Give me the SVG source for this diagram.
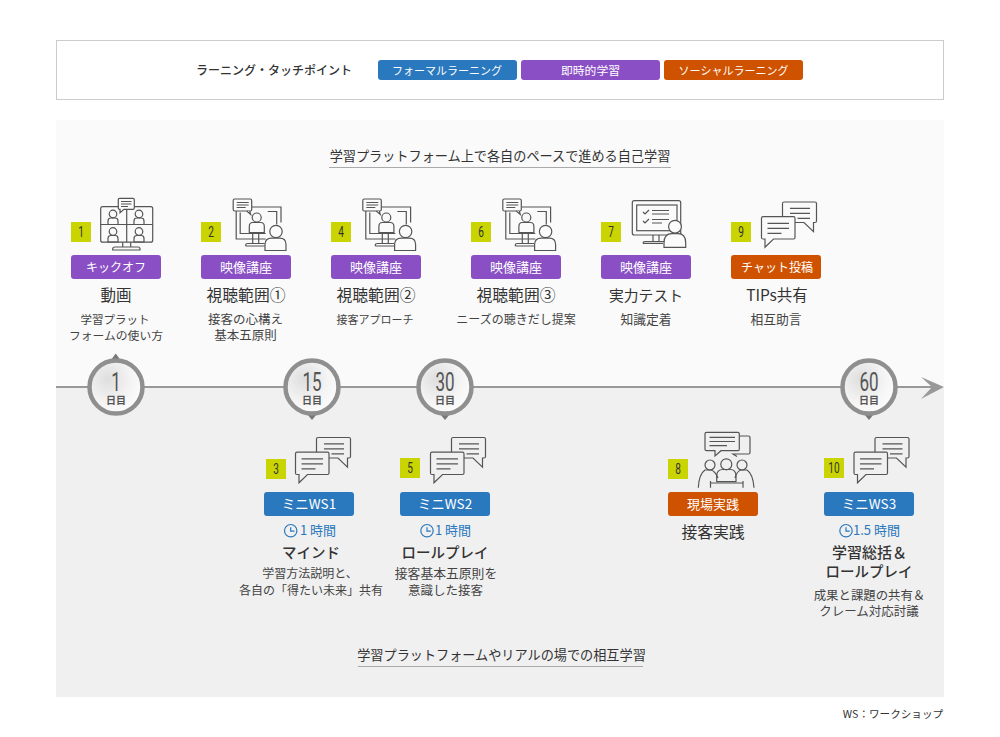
<svg xmlns="http://www.w3.org/2000/svg" width="1000" height="737" viewBox="0 0 1000 737">
<style>
text{font-family:"Noto Sans CJK JP","Noto Sans",sans-serif;text-anchor:middle;fill:#333}
.b{fill:#fff;font-size:13px}
.k{fill:#fff;font-size:12px}
.l{fill:#fff;font-size:11px}
.t{font-size:15.800px}
.u{font-size:14.500px;font-weight:500}
.d{font-size:12.500px;fill:#444}
.n{font-size:14px;font-family:Roboto,sans-serif;fill:#333}
.h{font-size:13.150px;fill:#333}
.tm{font-size:13px;fill:#2a78be}
.p{fill:#8a4fc4}.w{fill:#2a78be}.o{fill:#cf5200}
.sq{fill:#c9d400}
.i{fill:none;stroke:#555;stroke-width:1.2}
.if{fill:#fbfbfb;stroke:#555;stroke-width:1.2}
.c{fill:none;stroke:#2a78be;stroke-width:1.2}
.dn{font-size:25px;fill:#555;font-family:Roboto,sans-serif;font-weight:400}
.dy{font-size:10px;fill:#555;font-weight:700}
</style>
<defs>
<radialGradient id="g" cx="0.35" cy="0.35" r="0.8"><stop offset="0" stop-color="#dedede"/><stop offset="0.55" stop-color="#f4f4f4"/><stop offset="1" stop-color="#fff"/></radialGradient>
<g id="sp"><circle cx="0" cy="-10.500" r="3.800" class="i"/><path d="M-5 0V-3.500Q-5-6.500 -2-6.500H2Q5-6.500 5-3.500V0Z" class="i"/></g>
<g id="video">
<path d="M3.500 12.500V40.500H33M7.500 14V35H33M19 8.500H48.300V24M35 13H44V26M20 35V45M26 35V45M13 47.500V46.500Q13 45 15 45H32M13 47.500H32" class="i"/>
<rect x="0.500" y="0.500" width="18.500" height="12" rx="1.500" class="if"/>
<path d="M14 12.500L18 16L17 12.500" class="if"/>
<path d="M4 4H16M4 6.500H16M4 9H13" class="i" stroke-width="1"/>
<circle cx="24" cy="19" r="4.500" class="i"/>
<path d="M16.600 34V28Q16.600 24 20 24H28Q31.600 24 31.600 28V34Z" class="if"/>
<circle cx="43.300" cy="33" r="6.200" class="if"/>
<path d="M32.300 52V46Q32.300 39.600 39 39.600H47Q53.300 39.600 53.300 46V52Z" class="if"/>
</g>
<g id="chat">
<path d="M21 14.700V1.500Q21 0 22.500 0H53.500Q55 0 55 1.500V19Q55 20.500 53.500 20.500H52V29.700L42.500 20.500H33.500" class="i"/>
<path d="M28.500 6.300H48.500M28.500 11.300H48.500M36 16.300H48.500" class="i"/>
<path d="M1.500 14.700H32Q33.500 14.700 33.500 16.200V35.500Q33.500 37 32 37H12L3.500 45.300V37H1.500Q0 37 0 35.500V16.200Q0 14.700 1.500 14.700Z" class="i"/>
<path d="M6 21.300H27.500M6 26.300H27.500M6 31.300H20" class="i"/>
</g>
<g id="clock"><circle cx="0" cy="0" r="6.200" class="c"/><path d="M0-3.500V0.500H3.800" class="c"/></g>
<g id="day"><circle r="26.500" fill="url(#g)" stroke="#8f8f8f" stroke-width="4.500"/></g>
</defs>

<rect x="56.500" y="40.500" width="887" height="59" fill="#fff" stroke="#ccc"/>
<rect x="56" y="120" width="888" height="268" fill="#fafafa"/>
<rect x="56" y="388" width="888" height="309" fill="#f0f0f0"/>

<g id="legend">
<text x="274" y="74.500" style="font-size:12px;font-weight:500">ラーニング・タッチポイント</text>
<rect x="378" y="60" width="139" height="20" rx="3" class="w"/><text x="447" y="74.500" class="l">フォーマルラーニング</text>
<rect x="521" y="60" width="139" height="20" rx="3" class="p"/><text x="590.500" y="74.500" class="l" style="font-size:11.800px">即時的学習</text>
<rect x="664" y="60" width="139" height="20" rx="3" class="o"/><text x="733.500" y="74.500" class="l">ソーシャルラーニング</text>
</g>

<g id="heading-top"><text x="500" y="161" class="h">学習プラットフォーム上で各自のペースで進める自己学習</text><path d="M329 167.500H671" stroke="#aaa" fill="none"/></g>
<g id="heading-bottom"><text x="501.500" y="660" class="h">学習プラットフォームやリアルの場での相互学習</text><path d="M358 666.500H643" stroke="#aaa" fill="none"/></g>

<g id="connectors">
<path d="M56 387H934" stroke="#999" stroke-width="2" fill="none"/>
<path d="M921 377L944 387L921 399L932 387Z" fill="#999"/>
</g>

<g id="day1"><path d="M111 360L115.700 353.500L120.500 360Z" fill="#777"/><use href="#day" x="116" y="387"/><text transform="translate(116,391) scale(.68,1)" class="dn">1</text><text x="116" y="404" class="dy">日目</text></g>
<g id="day15"><path d="M307 414L312 420L317 414Z" fill="#777"/><use href="#day" x="312" y="387"/><text transform="translate(312,391) scale(.68,1)" class="dn">15</text><text x="312" y="404" class="dy">日目</text></g>
<g id="day30"><path d="M440 414L445 420L450 414Z" fill="#777"/><use href="#day" x="445" y="387"/><text transform="translate(445,391) scale(.68,1)" class="dn">30</text><text x="445" y="404" class="dy">日目</text></g>
<g id="day60"><path d="M864 414L869 420L874 414Z" fill="#777"/><use href="#day" x="869" y="387"/><text transform="translate(869,391) scale(.68,1)" class="dn">60</text><text x="869" y="404" class="dy">日目</text></g>

<g id="node1">
<rect x="71" y="222" width="20" height="20" class="sq"/><text transform="translate(81,237) scale(.72,1)" class="n">1</text>
<rect x="100.700" y="206.700" width="52" height="35.500" rx="2" class="i"/><path d="M100.700 224.500H152.700M126.700 206.700V242.200M122.700 242.200V247M130.700 242.200V247M112.700 250V249Q112.700 247 115 247H138Q140 247 140 249V250ZM112.700 250H140" class="i"/>
<use href="#sp" transform="translate(113,224.500)"/><use href="#sp" transform="translate(139,224.500)"/><use href="#sp" transform="translate(113,242)"/><use href="#sp" transform="translate(139,242)"/>
<path d="M119.500 198.300H133Q134.300 198.300 134.300 199.500V208Q134.300 209.300 133 209.300H124L120 212.700V209.300H119.500Q118.300 209.300 118.300 208V199.500Q118.300 198.300 119.500 198.300Z" class="if"/><path d="M121 201.500H131.500M121 204H131.500M121 206.500H128" class="i" stroke-width="1"/>
<rect x="71" y="255" width="90" height="24" rx="3" class="p"/><text x="116" y="272" class="k">キックオフ</text>
<text x="116" y="301" class="t" style="font-size:15.500px">動画</text><text x="115" y="324" class="d" style="font-size:11.500px">学習プラット</text><text x="116" y="340" class="d" style="font-size:11.800px">フォームの使い方</text>
</g>
<g id="node2">
<rect x="201" y="222" width="20" height="20" class="sq"/><text transform="translate(211,237) scale(.72,1)" class="n">2</text>
<use href="#video" x="232.700" y="198.500"/>
<rect x="201" y="255" width="90" height="24" rx="3" class="p"/><text x="246" y="272" class="b">映像講座</text>
<text x="246" y="301" class="t">視聴範囲①</text><text x="245.500" y="324" class="d">接客の心構え</text><text x="245.500" y="340" class="d">基本五原則</text>
</g>
<g id="node4">
<rect x="331" y="222" width="20" height="20" class="sq"/><text transform="translate(341,237) scale(.72,1)" class="n">4</text>
<use href="#video" x="362.300" y="198.500"/>
<rect x="331" y="255" width="90" height="24" rx="3" class="p"/><text x="376" y="272" class="b">映像講座</text>
<text x="376" y="301" class="t">視聴範囲②</text><text x="375" y="324" class="d" style="font-size:11px">接客アプローチ</text>
</g>
<g id="node6">
<rect x="471" y="222" width="20" height="20" class="sq"/><text transform="translate(481,237) scale(.72,1)" class="n">6</text>
<use href="#video" x="502.300" y="198.500"/>
<rect x="471" y="255" width="90" height="24" rx="3" class="p"/><text x="516" y="272" class="b">映像講座</text>
<text x="516" y="301" class="t">視聴範囲③</text><text x="516" y="324" class="d" style="font-size:12px">ニーズの聴きだし提案</text>
</g>
<g id="node7">
<rect x="601" y="222" width="20" height="20" class="sq"/><text transform="translate(611,237) scale(.72,1)" class="n">7</text>
<rect x="632.300" y="200.700" width="48.400" height="34.300" rx="2" class="i"/><rect x="636.700" y="205" width="40.300" height="25.700" class="i"/>
<path d="M653 235V241M659 235V241M643 243.300V243Q643 241.500 645 241.500H665M643 243.300H663" class="i"/>
<path d="M643 212L645 214L649 210M643 221L645 223L649 219M652 210.500H669M652 214H669M652 219.500H669M652 223H662" class="i" stroke-width="1"/>
<circle cx="675" cy="226.700" r="6.400" class="if"/><path d="M664 247.300V243Q664 233.700 672 233.700H678Q685.700 233.700 685.700 243V247.300Z" class="if"/>
<rect x="601" y="255" width="90" height="24" rx="3" class="p"/><text x="646" y="272" class="b">映像講座</text>
<text x="646" y="301" class="t" style="font-size:14.800px">実力テスト</text><text x="646" y="324" class="d" style="font-size:12.800px">知識定着</text>
</g>
<g id="node9">
<rect x="731" y="222" width="20" height="20" class="sq"/><text transform="translate(741,237) scale(.72,1)" class="n">9</text>
<use href="#chat" x="761.500" y="202"/>
<rect x="731" y="255" width="90" height="24" rx="3" class="o"/><text x="777" y="272" class="k">チャット投稿</text>
<text x="777" y="301" class="t" style="font-size:15.500px">TIPs共有</text><text x="776" y="324" class="d" style="font-size:12.800px">相互助言</text>
</g>
<g id="node3">
<rect x="266" y="459" width="20" height="20" class="sq"/><text transform="translate(276,474) scale(.72,1)" class="n">3</text>
<use href="#chat" x="295.500" y="437.500"/>
<rect x="264" y="492" width="90" height="24" rx="3" class="w"/><text x="309" y="509" class="b" style="font-size:13.500px">ミニWS1</text>
<use href="#clock" x="290.700" y="530.700"/><text x="318" y="535" class="tm">1 時間</text>
<text x="311" y="558" class="t u">マインド</text>
<text x="310" y="578" class="d" style="font-size:12px">学習方法説明と、</text><text x="311" y="595" class="d" style="font-size:12px">各自の「得たい未来」共有</text>
</g>
<g id="node5">
<rect x="400" y="458" width="20" height="20" class="sq"/><text transform="translate(410,473) scale(.72,1)" class="n">5</text>
<use href="#chat" x="430.500" y="437.500"/>
<rect x="400" y="492" width="90" height="24" rx="3" class="w"/><text x="445" y="509" class="b" style="font-size:13.500px">ミニWS2</text>
<use href="#clock" x="427" y="530.700"/><text x="453" y="535" class="tm">1 時間</text>
<text x="445" y="558" class="t u">ロールプレイ</text>
<text x="446" y="578" class="d" style="font-size:12.800px">接客基本五原則を</text><text x="445.500" y="595" class="d">意識した接客</text>
</g>
<g id="node8">
<rect x="668" y="459" width="20" height="20" class="sq"/><text transform="translate(678,474) scale(.72,1)" class="n">8</text>
<path d="M739.300 436H748.500Q750 436 750 437.500V452.500Q750 454 748.500 454H733L737 456.500" class="i"/>
<path d="M706.500 432.300H737.800Q739.300 432.300 739.300 433.800V449.200Q739.300 450.700 737.800 450.700H721L715 456V450.700H706.500Q705 450.700 705 449.200V433.800Q705 432.300 706.500 432.300Z" class="if" style="fill:#f0f0f0"/>
<path d="M709.500 437.300H735M709.500 441.500H735M709.500 445.700H727" class="i" stroke-width="1"/>
<circle cx="710" cy="465" r="5" class="i"/><circle cx="726.300" cy="464.300" r="5.500" class="i"/><circle cx="742" cy="465" r="5" class="i"/>
<path d="M698.300 487.700Q699 474 705 470H711Q715 471 718 478M710.500 487.700V481M754 487.700Q753 474 747 470H741Q737 471 735 478M743 487.700V481" class="i"/>
<path d="M716.700 481.700V476Q716.700 469.500 723 469.500H730Q736 469.500 736 476V481.700Z" class="i"/><path d="M710.500 483H743" class="i"/>
<rect x="668" y="492" width="90" height="24" rx="3" class="o"/><text x="713" y="509" class="b">現場実践</text>
<text x="713" y="538" class="t">接客実践</text>
</g>
<g id="node10">
<rect x="824" y="458" width="20" height="20" class="sq"/><text transform="translate(834,473) scale(.72,1)" class="n">10</text>
<use href="#chat" x="854" y="437.500"/>
<rect x="824" y="492" width="90" height="24" rx="3" class="w"/><text x="869" y="509" class="b" style="font-size:13.500px">ミニWS3</text>
<use href="#clock" x="846" y="530.700"/><text x="876.500" y="535" class="tm">1.5 時間</text>
<text x="869.500" y="558" class="t u" style="font-size:15px">学習総括＆</text><text x="869" y="577" class="t u">ロールプレイ</text>
<text x="869.500" y="600" class="d" style="font-size:12.400px">成果と課題の共有＆</text><text x="869" y="616" class="d">クレーム対応討議</text>
</g>
<text x="893" y="718" style="font-size:10.600px">WS：ワークショップ</text>
</svg>
